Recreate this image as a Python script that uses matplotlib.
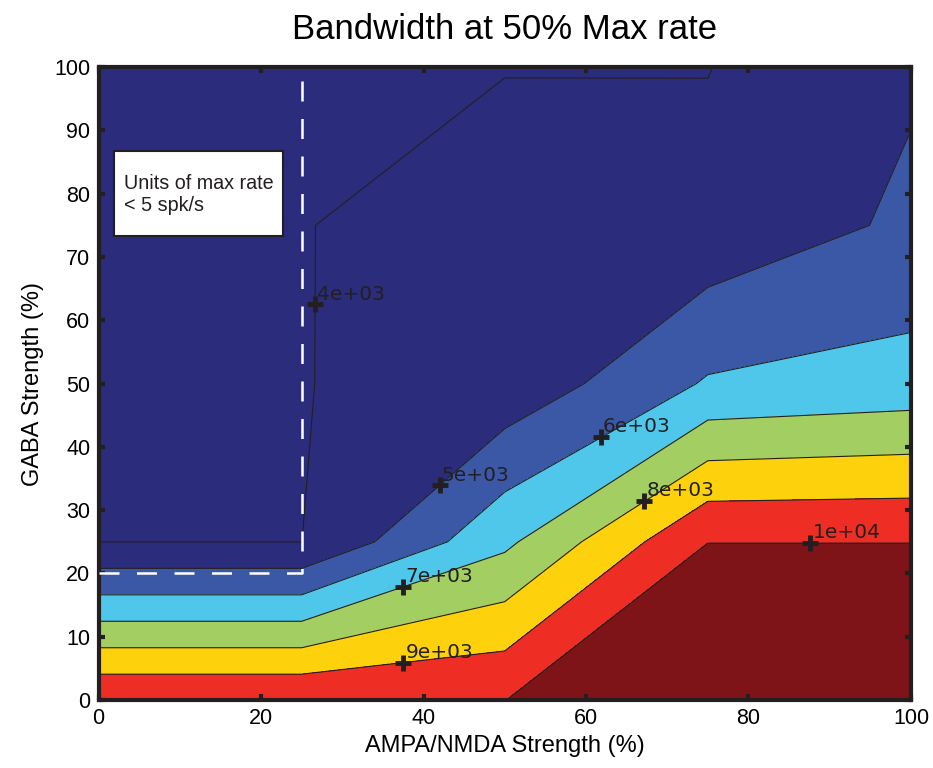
import matplotlib.pyplot as plt
import numpy as np
from matplotlib.patches import Rectangle

plt.rcParams['font.family'] = ['Liberation Sans', 'DejaVu Sans']

# sampled grid (% strength)
ampa = [0, 25, 50, 75, 100]
gaba = [0, 25, 50, 75, 100]
# bandwidth at 50% of max rate, rows = GABA, cols = AMPA/NMDA
bandwidth = np.array([
    [9977, 9977, 9995, 10600, 10600],
    [3995, 3995, 6785, 9995, 9995],
    [3980, 3980, 4290, 6102, 6390],
    [3980, 3978, 4300, 4290, 5182],
    [3980, 3980, 3978, 3978, 4879],
])

levels = [4000, 5000, 6000, 7000, 8000, 9000, 10000]
band_colors = ['#2B2C7C', '#2B2C7C', '#3B58A6', '#4FC7EA', '#A3CE62',
               '#FDD10B', '#EE2E24', '#7E1418']

# manual contour label spots
label_x = [26.6, 42.0, 61.8, 37.5, 67.2, 37.5, 87.6]
label_y = [62.5, 33.9, 41.5, 17.9, 31.4, 5.9, 24.8]
label_lvl = [4000, 5000, 6000, 7000, 8000, 9000, 10000]

# low-rate region outline
mask_x = [0, 25, 25]
mask_y = [20, 20, 100]

ink = '#231f20'

fig = plt.figure(figsize=(9.33, 7.68), dpi=100)
ax = fig.add_axes([0.1056, 0.0885, 0.8708, 0.8242])

ax.contourf(ampa, gaba, bandwidth, levels=[0] + levels + [20000], colors=band_colors)
ax.contour(ampa, gaba, bandwidth, levels=levels, colors=ink, linewidths=0.8)

for x, y, v in zip(label_x, label_y, label_lvl):
    ax.plot(x, y, '+', color=ink, markersize=11, mew=3.5, zorder=4)
    ax.annotate(f'{v:.0e}', (x, y), xytext=(1.5, 3.5), textcoords='offset points',
                ha='left', va='baseline', fontsize=14.5, color=ink,
                family='DejaVu Sans', zorder=4)

ax.plot(mask_x, mask_y, color='white', lw=1.8, ls=(0, (8, 7)), zorder=3)

ax.add_patch(Rectangle((1.9, 73.3), 20.8, 13.4, fc='white', ec=ink, lw=1.5, zorder=3))
ax.text(3.1, 79.8, 'Units of max rate\n< 5 spk/s', va='center', ha='left',
        fontsize=14.2, linespacing=1.2, color=ink, zorder=4)

ax.set_xlim(0, 100)
ax.set_ylim(0, 100)
ax.set_xticks(np.arange(0, 101, 20))
ax.set_yticks(np.arange(0, 101, 10))
ax.tick_params(which='both', direction='in', top=True, right=True,
               length=4.5, width=3, color=ink, labelsize=15.5, pad=6)
for s in ax.spines.values():
    s.set_linewidth(3)
    s.set_color(ink)

ax.set_xlabel('AMPA/NMDA Strength (%)', fontsize=17, labelpad=4)
ax.set_ylabel('GABA Strength (%)', fontsize=17, labelpad=7)
ax.set_title('Bandwidth at 50% Max rate', fontsize=25, pad=20)

fig.savefig('out.png', dpi=100)
